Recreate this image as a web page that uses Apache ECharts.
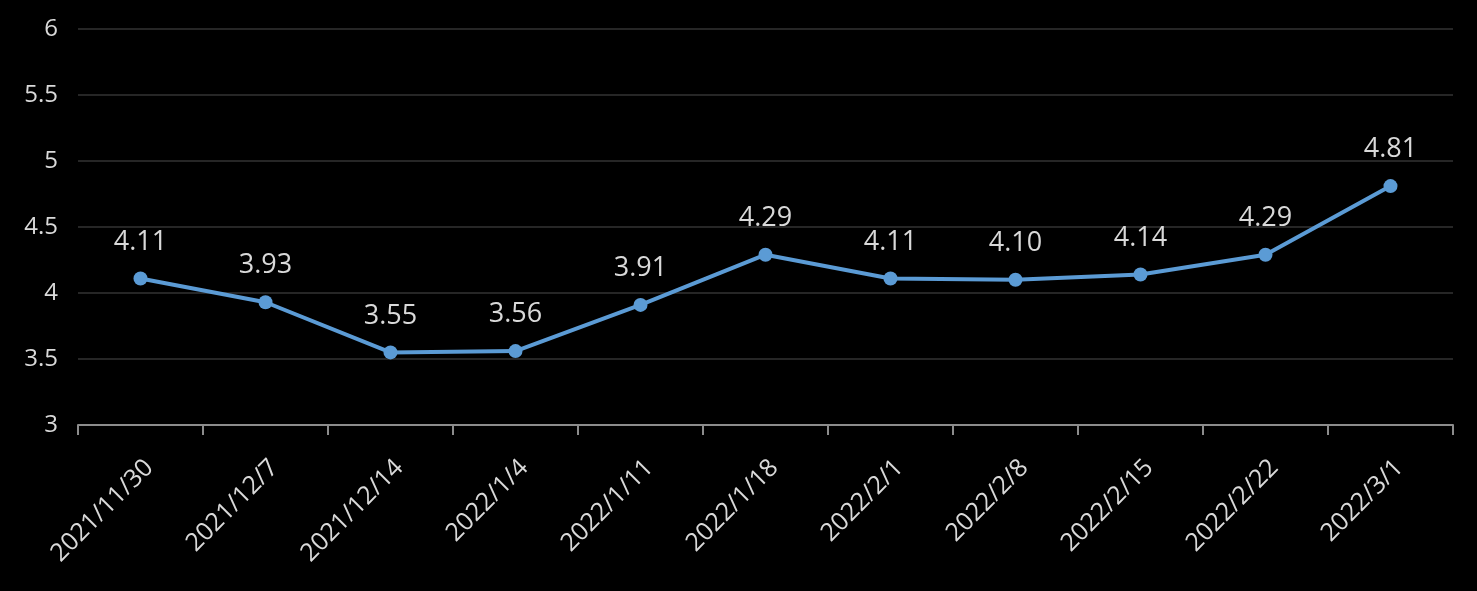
<!DOCTYPE html>
<html>
<head>
<meta charset="utf-8">
<script src="https://cdn.jsdelivr.net/npm/echarts@6/dist/echarts.min.js"></script>
<style>
  html, body { margin: 0; padding: 0; background: #000; }
  #chart { width: 1477px; height: 591px; }
</style>
</head>
<body>
<div id="chart"></div>
<script>
  // weekly dates and values
  const dates = ['2021/11/30', '2021/12/7', '2021/12/14', '2022/1/4', '2022/1/11', '2022/1/18',
    '2022/2/1', '2022/2/8', '2022/2/15', '2022/2/22', '2022/3/1'];
  const values = [4.11, 3.93, 3.55, 3.56, 3.91, 4.29, 4.11, 4.10, 4.14, 4.29, 4.81];

  const textColor = '#d9d9d9';
  const font = '"Open Sans", "Noto Sans", sans-serif';

  const myChart = echarts.init(document.getElementById('chart'));
  myChart.setOption({
    backgroundColor: '#000',
    animation: false,
    grid: { left: 78, right: 24, top: 29, bottom: 166 },
    xAxis: {
      type: 'category',
      data: dates,
      boundaryGap: true,
      axisLine: { lineStyle: { color: '#8c8c8c', width: 2 } },
      axisTick: { show: true, length: 10, lineStyle: { color: '#8c8c8c', width: 2 } },
      axisLabel: {
        rotate: 45,
        margin: 30,
        verticalAlign: 'top',
        color: textColor,
        fontSize: 25,
        fontFamily: font,
        interval: 0,
      },
    },
    yAxis: {
      type: 'value',
      min: 3,
      max: 6,
      interval: 0.5,
      axisLine: { show: false },
      axisTick: { show: false },
      splitLine: { lineStyle: { color: '#262626', width: 2 } },
      axisLabel: { color: textColor, fontSize: 24, margin: 20, fontFamily: font },
    },
    series: [
      {
        type: 'line',
        data: values,
        symbol: 'circle',
        symbolSize: 14,
        lineStyle: { color: '#5b9bd5', width: 4 },
        itemStyle: { color: '#5b9bd5' },
        label: {
          show: true,
          position: 'top',
          distance: 16,
          color: textColor,
          fontSize: 27,
          fontFamily: font,
          formatter: (p) => p.value.toFixed(2),
        },
      },
    ],
  });
</script>
</body>
</html>
